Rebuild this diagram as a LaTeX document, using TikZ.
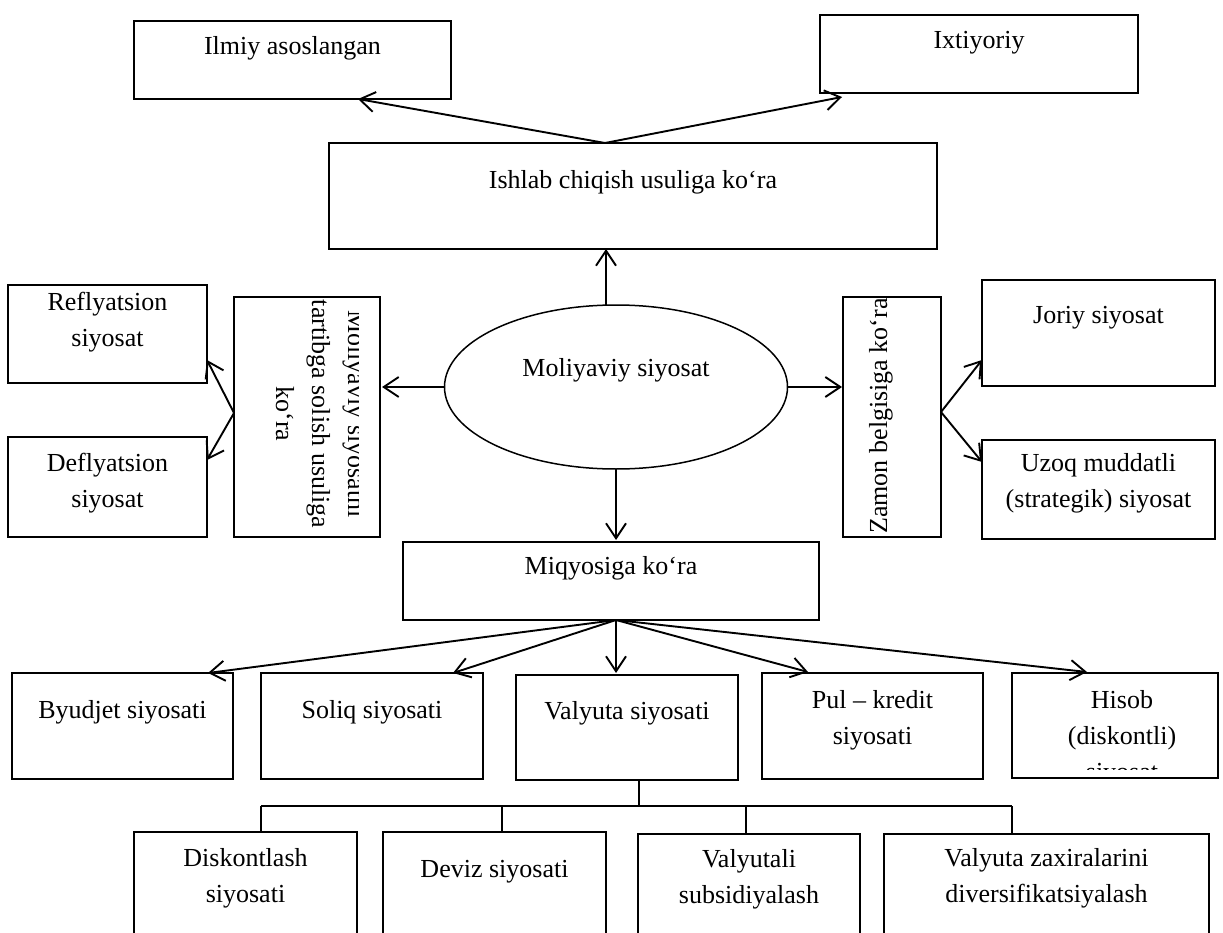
\documentclass[tikz,border=0pt]{standalone}
\usepackage{fontspec}
\setmainfont{Liberation Serif}
\usetikzlibrary{arrows.meta,shapes.geometric}
% box from (x1,y1) to (x2,y2) with its text centred at height ty
\newcommand\drawbox[7]{%
  \node[box, minimum width={#4-#2}, minimum height={#5-#3}] (#1) at ({(#2+#4)/2},{(#3+#5)/2}) {};
  \node[txt] (#1-t) at ({(#2+#4)/2},#6) {#7};}
\begin{document}
\begin{tikzpicture}[x=1pt,y=-1pt,
  box/.style={draw, line width=1.6pt, inner sep=0pt},
  txt/.style={font=\fontsize{26}{36}\selectfont, align=center, inner sep=0pt},
  arr/.style={line width=1.9pt, -{Straight Barb[length=15pt,width=20pt,line width=1.9pt]}},
  link/.style={line width=1.6pt}]
\clip (0,0) rectangle (1223,933);
\fill[white] (0,0) rectangle (1223,933);

% top level
\drawbox{ilmiy}{134}{21}{451}{99}{48}{Ilmiy asoslangan}
\drawbox{ixt}{820}{15}{1138}{93}{43}{Ixtiyoriy}
\drawbox{ishlab}{329}{143}{937}{249}{182}{Ishlab chiqish usuliga ko‘ra}

% centre
\node[draw, ellipse, line width=1.5pt, minimum width=343pt, minimum height=164pt, inner sep=0pt] (mol) at (616,387) {};
\node[txt] (mol-t) at (616,370) {Moliyaviy siyosat};

% left side
\drawbox{refl}{8}{285}{207}{383}{322}{Reflyatsion\\siyosat}
\drawbox{defl}{8}{437}{207}{537}{483}{Deflyatsion\\siyosat}
\node[box, minimum width=146pt, minimum height=240pt] (tart) at (307,417) {};
\begin{scope}
  \clip (234,297) rectangle (358,537);
  \node[txt, rotate=-90] (tart-t) at (321,414) {Moliyaviy siyosatni\\tartibga solish usuliga\\ko‘ra};
\end{scope}

% right side
\node[box, minimum width=98pt, minimum height=240pt] (zamon) at (892,417) {};
\node[txt, rotate=90] (zamon-t) at (881,416) {Zamon belgisiga ko‘ra};
\drawbox{joriy}{982}{280}{1215}{386}{318}{Joriy siyosat}
\drawbox{uzoq}{982}{440}{1215}{539}{483}{Uzoq muddatli\\(strategik) siyosat}

% scale
\drawbox{miq}{403}{542}{819}{620}{568}{Miqyosiga ko‘ra}
\drawbox{byud}{12}{673}{233}{779}{712}{Byudjet siyosati}
\drawbox{soliq}{261}{673}{483}{779}{712}{Soliq siyosati}
\drawbox{val}{516}{675}{738}{780}{713}{Valyuta siyosati}
\drawbox{pul}{762}{673}{983}{779}{720}{Pul – kredit\\siyosati}
\node[box, minimum width=206pt, minimum height=105pt] (hisob) at (1115,725.5) {};
\begin{scope}
  \clip (1012,673) rectangle (1218,769);
  \node[txt] (hisob-t) at (1122,738) {Hisob\\(diskontli)\\siyosat};
\end{scope}

% currency policy tools
\drawbox{disk}{134}{832}{357}{960}{878}{Diskontlash\\siyosati}
\drawbox{deviz}{383}{832}{606}{960}{872}{Deviz siyosati}
\drawbox{vsub}{638}{834}{860}{960}{879}{Valyutali\\subsidiyalash}
\drawbox{vzax}{884}{834}{1209}{960}{878}{Valyuta zaxiralarini\\diversifikatsiyalash}

% connector end points
\coordinate (ishTop) at (605,143);
\coordinate (ilmiyTip) at (358,99);
\coordinate (ixtTip) at (842,97);
\coordinate (molTop) at (606,305);
\coordinate (ishBot) at (606,249);
\coordinate (molLeft) at (445,387);
\coordinate (tartTip) at (382,387);
\coordinate (tartLeft) at (234,413);
\coordinate (reflTip) at (207,360);
\coordinate (deflTip) at (207,460);
\coordinate (molRight) at (788,387);
\coordinate (zamonTip) at (842,387);
\coordinate (zamonRight) at (941,412);
\coordinate (joriyTip) at (982,360);
\coordinate (uzoqTip) at (982,462);
\coordinate (molBot) at (616,469);
\coordinate (miqTip) at (616,540);
\coordinate (miqBot) at (616,620);
\coordinate (byudTip) at (208,673);
\coordinate (soliqTip) at (453,673);
\coordinate (valTip) at (616,673);
\coordinate (pulTip) at (808,672);
\coordinate (hisobTip) at (1087,672);
\coordinate (valBot) at (639,780);
\coordinate (busMid) at (639,806);
\coordinate (busL) at (261,806);
\coordinate (busR) at (1012,806);
\coordinate (bus2) at (502,806);
\coordinate (bus3) at (746,806);
\coordinate (diskTop) at (261,832);
\coordinate (devizTop) at (502,832);
\coordinate (vsubTop) at (746,834);
\coordinate (vzaxTop) at (1012,834);

% arrows
\draw[arr] (ishTop) -- (ilmiyTip);
\draw[arr] (ishTop) -- (ixtTip);
\draw[arr] (molTop) -- (ishBot);
\draw[arr] (molLeft) -- (tartTip);
\draw[arr] (tartLeft) -- (reflTip);
\draw[arr] (tartLeft) -- (deflTip);
\draw[arr] (molRight) -- (zamonTip);
\draw[arr] (zamonRight) -- (joriyTip);
\draw[arr] (zamonRight) -- (uzoqTip);
\draw[arr] (molBot) -- (miqTip);
\draw[arr] (miqBot) -- (byudTip);
\draw[arr] (miqBot) -- (soliqTip);
\draw[arr] (miqBot) -- (valTip);
\draw[arr] (miqBot) -- (pulTip);
\draw[arr] (miqBot) -- (hisobTip);

% bracket below the currency policy
\draw[link] (valBot) -- (busMid);
\draw[link] (busL) -- (busR);
\draw[link] (busL) -- (diskTop);
\draw[link] (bus2) -- (devizTop);
\draw[link] (bus3) -- (vsubTop);
\draw[link] (busR) -- (vzaxTop);
\end{tikzpicture}
\end{document}
